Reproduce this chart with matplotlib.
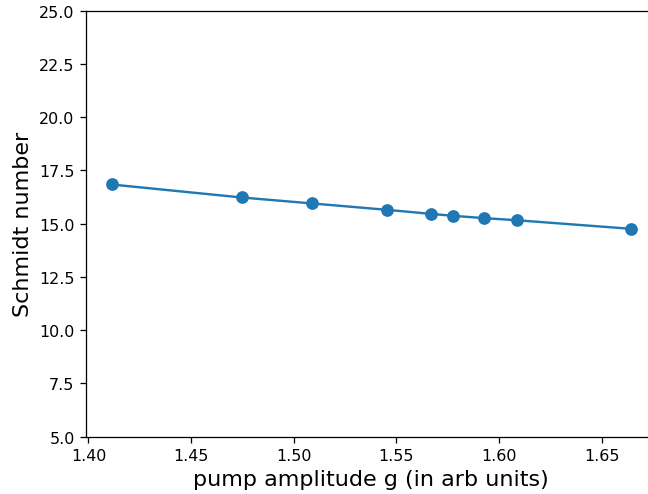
import numpy as np
import matplotlib
matplotlib.use("Agg")
import matplotlib.pyplot as plt

# pump amplitude g vs Schmidt number
pump_g = [1.4113, 1.4746, 1.5089, 1.5454, 1.5668, 1.5775, 1.5928, 1.6088, 1.6641]
schmidt = [16.84, 16.23, 15.95, 15.65, 15.46, 15.37, 15.26, 15.16, 14.76]

DPI = 114.5
fig = plt.figure(figsize=(648 / DPI, 495 / DPI), dpi=DPI)
ax = fig.add_axes([0.1323, 0.1158, 0.881, 0.8606])

ax.plot(pump_g, schmidt, "-o", color="#1f77b4", linewidth=1.5, markersize=7)

ax.set_xlim(1.3987, 1.6767)
ax.set_ylim(5, 25)
ax.set_xticks([1.40, 1.45, 1.50, 1.55, 1.60, 1.65])
ax.set_xlabel("pump amplitude g (in arb units)", fontsize=14)
ax.set_ylabel("Schmidt number", fontsize=14)
ax.tick_params(labelsize=10)

fig.savefig("out.png", dpi=DPI)
